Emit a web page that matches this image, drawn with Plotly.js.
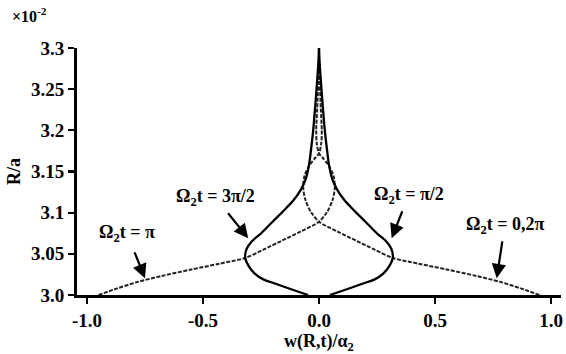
<!DOCTYPE html>
<html>
<head>
<meta charset="utf-8">
<script src="https://cdn.plot.ly/plotly-3.0.1.min.js"></script>
<style>html,body{margin:0;padding:0;background:#fff;}#chart{width:566px;height:354px;}</style>
</head>
<body>
<div id="chart"></div>
<script>
// Omega2 t = 0, 2pi (dashed)
const x_0_2pi = [0.95, 0.87, 0.78, 0.68, 0.55, 0.43, 0.318, 0.24, 0.16, 0.08, 0.0, -0.035, -0.058, -0.068, -0.062, -0.04, -0.015, 0.0, 0.01, 0.012, 0.008, 0.003, 0.0];
const y_0_2pi = [3.0, 3.008, 3.016, 3.023, 3.031, 3.038, 3.045, 3.055, 3.066, 3.077, 3.089, 3.101, 3.115, 3.13, 3.145, 3.158, 3.167, 3.172, 3.185, 3.2, 3.225, 3.26, 3.3];
// Omega2 t = pi (dashed)
const x_pi = [-0.95, -0.87, -0.78, -0.68, -0.55, -0.43, -0.318, -0.24, -0.16, -0.08, 0.0, 0.035, 0.058, 0.068, 0.062, 0.04, 0.015, 0.0, -0.01, -0.012, -0.008, -0.003, 0.0];
const y_pi = [3.0, 3.008, 3.016, 3.023, 3.031, 3.038, 3.045, 3.055, 3.066, 3.077, 3.089, 3.101, 3.115, 3.13, 3.145, 3.158, 3.167, 3.172, 3.185, 3.2, 3.225, 3.26, 3.3];
// Omega2 t = pi/2 (solid)
const x_pi2 = [0.047, 0.12, 0.19, 0.24, 0.277, 0.303, 0.318, 0.312, 0.29, 0.249, 0.2, 0.15, 0.11, 0.08, 0.058, 0.043, 0.033, 0.025, 0.016, 0.008, 0.002, 0.0];
const y_pi2 = [3.0, 3.007, 3.014, 3.019, 3.026, 3.035, 3.045, 3.056, 3.065, 3.075, 3.089, 3.103, 3.115, 3.127, 3.14, 3.158, 3.18, 3.2, 3.23, 3.26, 3.285, 3.3];
// Omega2 t = 3pi/2 (solid)
const x_3pi2 = [-0.047, -0.12, -0.19, -0.24, -0.277, -0.303, -0.318, -0.312, -0.29, -0.249, -0.2, -0.15, -0.11, -0.08, -0.058, -0.043, -0.033, -0.025, -0.016, -0.008, -0.002, 0.0];
const y_3pi2 = [3.0, 3.007, 3.014, 3.019, 3.026, 3.035, 3.045, 3.056, 3.065, 3.075, 3.089, 3.103, 3.115, 3.127, 3.14, 3.158, 3.18, 3.2, 3.23, 3.26, 3.285, 3.3];

const xTickVals = [-1.0, -0.5, 0.0, 0.5, 1.0];
const xTickText = ['-1.0', '-0.5', '0.0', '0.5', '1.0'];
const yTickVals = [3.0, 3.05, 3.1, 3.15, 3.2, 3.25, 3.3];
const yTickText = ['3.0', '3.05', '3.1', '3.15', '3.2', '3.25', '3.3'];

const labels = ['Ω<sub>2</sub>t = 0,2π', 'Ω<sub>2</sub>t = π', 'Ω<sub>2</sub>t = π/2', 'Ω<sub>2</sub>t = 3π/2'];
// arrow tips (data units) and label offsets from the tip (pixels)
const arrowX = [0.766, -0.75, 0.313, -0.305];
const arrowY = [3.0203, 3.0203, 3.0689, 3.0689];
const labelAx = [8, -18, 17, -33];
const labelAy = [-53, -45, -43, -41];
const labelPad = [4, 7, 4, 4];

const FONT = 'Liberation Serif, Times New Roman, serif';
const dashStyle = {color: '#222', width: 2, dash: '4px,1.5px', shape: 'spline', smoothing: 0.8};
const solidStyle = {color: '#000', width: 2.3, shape: 'spline', smoothing: 0.8};

const traces = [
  {x: x_0_2pi, y: y_0_2pi, mode: 'lines', line: dashStyle},
  {x: x_pi, y: y_pi, mode: 'lines', line: dashStyle},
  {x: x_pi2, y: y_pi2, mode: 'lines', line: solidStyle},
  {x: x_3pi2, y: y_3pi2, mode: 'lines', line: solidStyle}
];

const annotations = [];
for (let i = 0; i < labels.length; i++) {
  annotations.push({x: arrowX[i], y: arrowY[i], xref: 'x', yref: 'y', text: '<b>' + labels[i] + '</b>', showarrow: true,
    ax: labelAx[i], ay: labelAy[i], borderpad: labelPad[i], arrowhead: 2, arrowsize: 1.3, arrowwidth: 2.2, arrowcolor: '#000',
    font: {family: FONT, size: 18, color: '#000'}});
}
annotations.push({x: -0.138, y: 1.135, xref: 'paper', yref: 'paper', xanchor: 'left', yanchor: 'middle',
  text: '<b>×10<sup>-2</sup></b>', showarrow: false, font: {family: FONT, size: 16, color: '#000'}});

const layout = {
  width: 566, height: 354,
  margin: {l: 77, r: 5, t: 48, b: 59},
  paper_bgcolor: '#fff', plot_bgcolor: '#fff',
  showlegend: false,
  xaxis: {
    range: [-1.043, 1.043], tickvals: xTickVals, ticktext: xTickText,
    showgrid: false, zeroline: false, showline: true, linecolor: '#000', linewidth: 3,
    ticks: 'outside', ticklen: 6, tickwidth: 2.2, tickcolor: '#000',
    tickfont: {family: FONT, size: 19, color: '#000', weight: 'bold'},
    title: {text: '<b>w(R,t)/α<sub>2</sub></b>', font: {family: FONT, size: 18, color: '#000'}, standoff: 12}
  },
  yaxis: {
    range: [3.0, 3.3], tickvals: yTickVals, ticktext: yTickText,
    showgrid: false, zeroline: false, showline: true, linecolor: '#000', linewidth: 3,
    ticks: 'outside', ticklen: 6, tickwidth: 2.2, tickcolor: '#000',
    tickfont: {family: FONT, size: 19, color: '#000', weight: 'bold'},
    title: {text: '<b>R/a</b>', font: {family: FONT, size: 18, color: '#000'}, standoff: 6}
  },
  annotations: annotations
};

Plotly.newPlot('chart', traces, layout, {staticPlot: true, displayModeBar: false});
</script>
</body>
</html>
